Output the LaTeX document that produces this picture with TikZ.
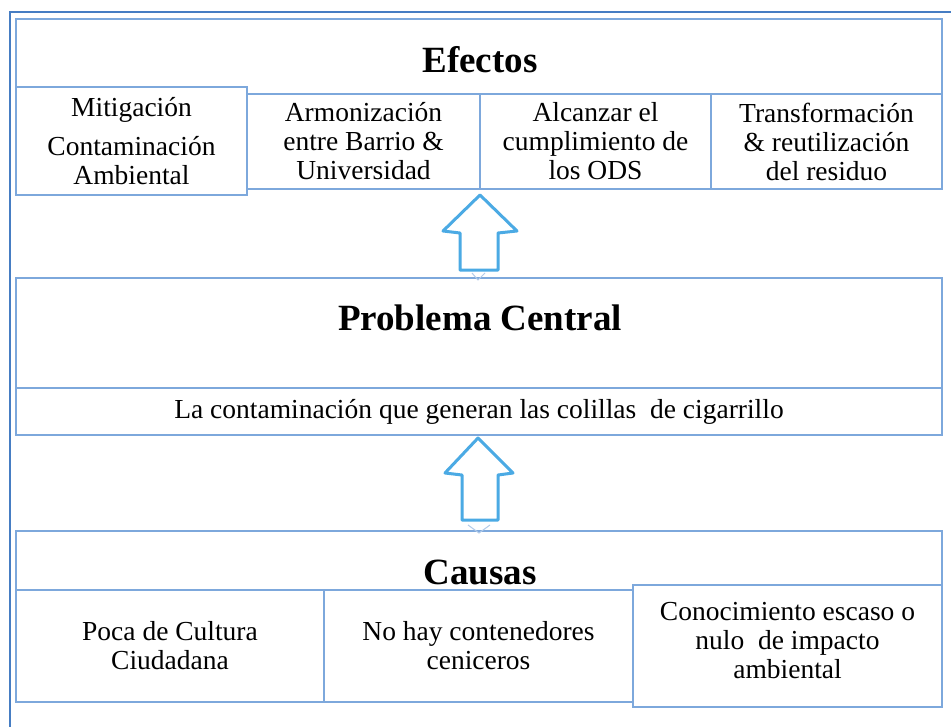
\documentclass[tikz,border=0pt]{standalone}
\usepackage{fontspec}
\setmainfont{Liberation Serif}
\definecolor{boxline}{RGB}{125,168,220}
\definecolor{frameline}{RGB}{70,125,195}
\definecolor{arrowc}{RGB}{75,170,228}
\begin{document}
\begin{tikzpicture}[x=1pt,y=-1pt,
 cell/.style={draw=boxline,line width=1.6pt,fill=white,inner sep=0pt,align=center,font=\fontsize{27.5}{29}\selectfont},
 ttl/.style={font=\bfseries\fontsize{37}{40}\selectfont,inner sep=0pt},
 bigarrow/.style={draw=arrowc,line width=3pt,fill=white,line join=round},
 ghost/.style={draw=boxline!60,line width=1pt}]
\useasboundingbox (0,0) rectangle (951,726);
\clip (0,0) rectangle (951,726);
\fill[white] (0,0) rectangle (951,726);
\draw[frameline,line width=2.2pt] (10,740) -- (10,12) -- (960,12);

% Efectos
\node[cell,minimum width=926pt,minimum height=170pt] (efx) at (479,104) {};
\node[ttl] (efxT) at (480,60) {Efectos};
\node[cell,minimum width=233pt,minimum height=95pt] (arm) at (363.5,141.5) {Armonización\\entre Barrio \&\\Universidad};
\node[cell,minimum width=231pt,minimum height=95pt] (alc) at (595.5,141.5) {Alcanzar el\\cumplimiento de\\los ODS};
\node[cell,minimum width=231pt,minimum height=95pt] (tra) at (826.5,141.5) {Transformación\\\& reutilización\\del residuo};
\node[cell,minimum width=231pt,minimum height=108pt] (mit) at (131.5,141) {Mitigación\\[10pt]Contaminación\\Ambiental};

% Problema central
\node[cell,minimum width=926pt,minimum height=157pt] (prob) at (479,356.5) {};
\node[ttl] (probT) at (480,318) {Problema Central};
\node[cell,minimum width=926pt,minimum height=47pt] (probS) at (479,411.5) {La contaminación que generan las colillas\ \ de cigarrillo};

% Causas
\node[cell,minimum width=926pt,minimum height=171pt] (cau) at (479,616.5) {};
\node[ttl] (cauT) at (480,572) {Causas};
\node[cell,minimum width=308pt,minimum height=112pt] (poca) at (170,646) {Poca de Cultura\\Ciudadana};
\node[cell,minimum width=309pt,minimum height=112pt] (nohay) at (478.5,646) {No hay contenedores\\ceniceros};
\node[cell,minimum width=309pt,minimum height=122pt] (con) at (787.5,646) {};
\node[align=center,inner sep=0pt,font=\fontsize{27.5}{29}\selectfont] (conT) at (787.5,641) {Conocimiento escaso o\\nulo\ \ de impacto\\ambiental};

% Arrows
\draw[bigarrow] (480,195) -- (517,231) -- (498,233) -- (498,270) -- (460,270) -- (460,233) -- (443,231) -- cycle;
\draw[ghost] (472,273) -- (478,280) -- (485,273);
\draw[bigarrow] (478,438) -- (513,473) -- (498,475) -- (498,520) -- (462,520) -- (462,475) -- (445,473) -- cycle;
\draw[ghost] (468,525) -- (479,533) -- (490,525);
\end{tikzpicture}
\end{document}
